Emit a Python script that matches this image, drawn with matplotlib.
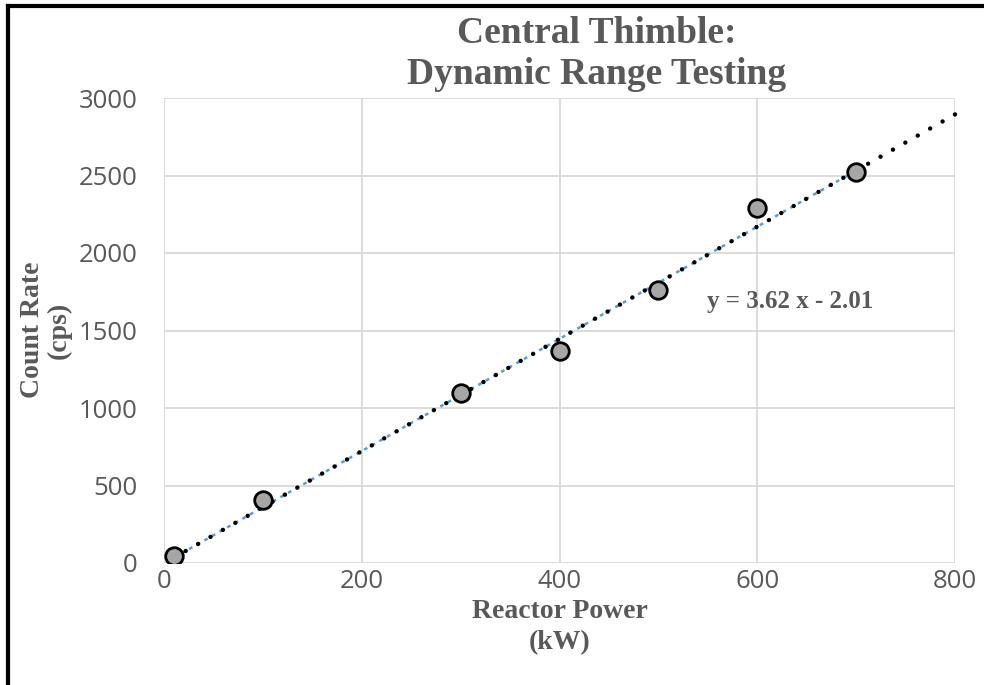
import matplotlib
matplotlib.use("Agg")
import matplotlib.pyplot as plt
from matplotlib.lines import Line2D
import numpy as np

# Data
power_kw = [10, 100, 300, 400, 500, 600, 700]
count_rate = [45, 405, 1100, 1368, 1760, 2288, 2522]
slope = 3.62
intercept = -2.01
trend_x_range = [10, 800]
x_ticks = [0, 200, 400, 600, 800]
y_ticks = [0, 500, 1000, 1500, 2000, 2500, 3000]

GRAY_TXT = "#595959"
fig = plt.figure(figsize=(9.84, 6.85), dpi=100)
W, H = 984, 685
ax = fig.add_axes([164 / W, 1 - 563 / H, (955 - 164) / W, (563 - 98) / H])

ax.set_xlim(0, 800)
ax.set_ylim(0, 3000)
ax.set_xticks(x_ticks)
ax.set_yticks(y_ticks)
ax.grid(True, color="#d9d9d9", linewidth=1.3)
ax.set_axisbelow(True)
for s in ax.spines.values():
    s.set_visible(False)
ax.tick_params(length=0, labelsize=18.5, labelcolor=GRAY_TXT)
ax.tick_params(axis="x", pad=4)
ax.tick_params(axis="y", pad=19)
for lab in ax.get_xticklabels() + ax.get_yticklabels():
    lab.set_fontfamily("Open Sans")

# Linear fit line (blue, thin dotted) across the data range
fx = np.array([min(power_kw), max(power_kw)])
ax.plot(fx, slope * fx + intercept, color="#5b9bd5", linewidth=1.8,
        linestyle=(0, (1.5, 2.0)), zorder=2)
# Trendline (black dotted), drawn from the right end so a dot sits at x=800
tx = np.array(trend_x_range[::-1])
ax.plot(tx, slope * tx + intercept, color="black", linewidth=3.2,
        linestyle=(0, (0.01, 3.2)), dash_capstyle="round", zorder=3,
        clip_on=False)
# Data points
ax.scatter(power_kw, count_rate, s=160, facecolor="#a6a6a6", edgecolor="black",
           linewidth=2.0, zorder=4)

ax.text(633, 1684, "y = 3.62 x - 2.01", fontsize=18, fontweight="bold",
        family="Liberation Serif", color=GRAY_TXT, ha="center", va="center")

fig.text(597 / W, 1 - 54 / H, "Central Thimble:\nDynamic Range Testing",
         fontsize=27, fontweight="bold", family="Liberation Serif",
         color=GRAY_TXT, ha="center", va="center", linespacing=1.2)
fig.text(560 / W, 1 - 627 / H, "Reactor Power\n(kW)", fontsize=20,
         fontweight="bold", family="Liberation Serif", color=GRAY_TXT,
         ha="center", va="center", linespacing=1.3)
fig.text(46 / W, 1 - 330 / H, "Count Rate\n(cps)", fontsize=20,
         fontweight="bold", family="Liberation Serif", color=GRAY_TXT,
         ha="center", va="center", rotation=90, linespacing=1.1)

# Outer border (left and top only)
fig.add_artist(Line2D([8 / W, 8 / W], [0, 1 - 6 / H], color="black",
                      linewidth=3.0, transform=fig.transFigure))
fig.add_artist(Line2D([8 / W, 1], [1 - 6 / H, 1 - 6 / H], color="black",
                      linewidth=3.0, transform=fig.transFigure,
                      solid_capstyle="projecting"))

fig.savefig("out.png", dpi=100)
